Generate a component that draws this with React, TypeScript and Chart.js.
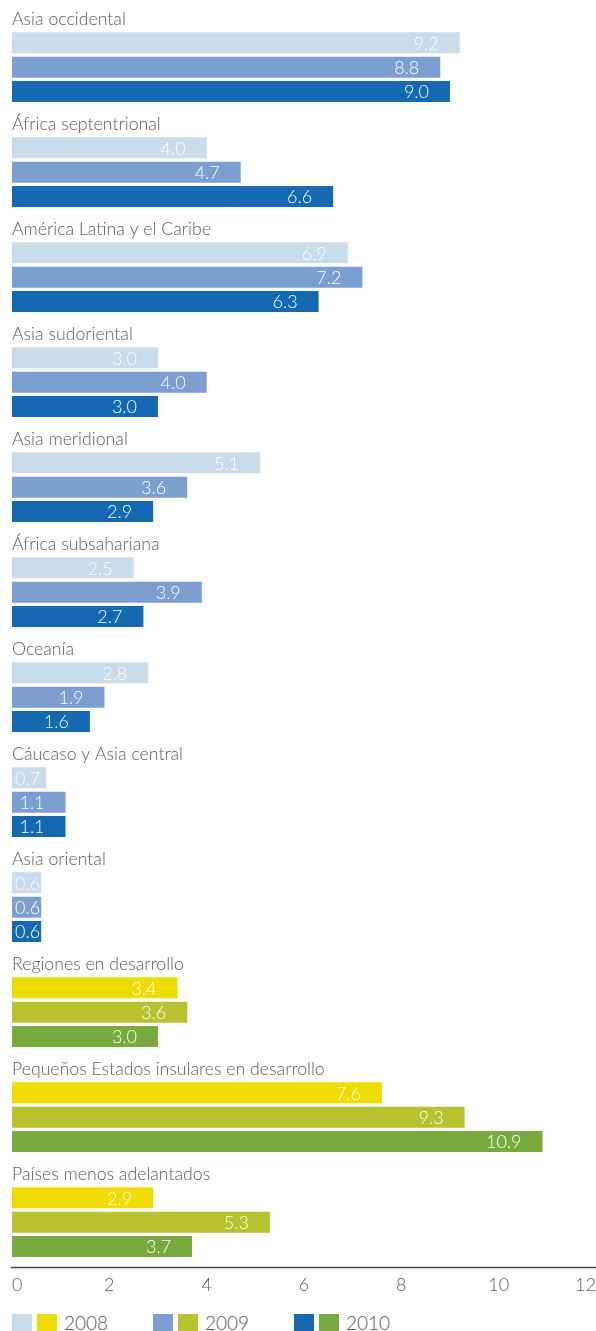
import React, { useEffect, useRef } from "react";
import { Chart, registerables } from "chart.js";

Chart.register(...registerables);

const categories = [
  "Asia occidental",
  "África septentrional",
  "América Latina y el Caribe",
  "Asia sudoriental",
  "Asia meridional",
  "África subsahariana",
  "Oceanía",
  "Cáucaso y Asia central",
  "Asia oriental",
  "Regiones en desarrollo",
  "Pequeños Estados insulares en desarrollo",
  "Países menos adelantados",
];

const years = ["2008", "2009", "2010"];

const values2008 = [9.2, 4.0, 6.9, 3.0, 5.1, 2.5, 2.8, 0.7, 0.6, 3.4, 7.6, 2.9];
const values2009 = [8.8, 4.7, 7.2, 4.0, 3.6, 3.9, 1.9, 1.1, 0.6, 3.6, 9.3, 5.3];
const values2010 = [9.0, 6.6, 6.3, 3.0, 2.9, 2.7, 1.6, 1.1, 0.6, 3.0, 10.9, 3.7];

const xTickValues = [0, 2, 4, 6, 8, 10, 12];

// first index of the aggregate groups (drawn in yellow/green)
const aggregateStart = 9;

const regionColors = ["#c8dcea", "#7a9fd0", "#1569b0"];
const aggregateColors = ["#f0dc00", "#b8c22e", "#78aa3d"];

const FONT = "Lato, 'Open Sans', sans-serif";
const TEXT_COLOR = "#58595b";

const overlayPlugin = {
  id: "overlayPlugin",
  afterDatasetsDraw(chart: any) {
    const ctx = chart.ctx;
    const area = chart.chartArea;
    ctx.save();
    // group labels
    ctx.font = `300 17.7px ${FONT}`;
    ctx.fillStyle = TEXT_COLOR;
    ctx.textAlign = "left";
    ctx.textBaseline = "alphabetic";
    const meta0 = chart.getDatasetMeta(0);
    meta0.data.forEach((bar: any, i: number) => {
      const top = bar.y - bar.height / 2;
      ctx.fillText(categories[i], area.left, top - 7);
    });
    // value labels
    ctx.font = `300 18px ${FONT}`;
    ctx.fillStyle = "#ffffff";
    ctx.textAlign = "left";
    ctx.textBaseline = "middle";
    chart.data.datasets.forEach((ds: any, d: number) => {
      chart.getDatasetMeta(d).data.forEach((bar: any, i: number) => {
        const txt = Number(ds.data[i]).toFixed(1);
        const w = ctx.measureText(txt).width;
        let left = bar.x - 21 - w;
        if (left < bar.base + 3) left = bar.base + 3;
        ctx.fillText(txt, left, bar.y + 1);
      });
    });
    // axis line
    ctx.strokeStyle = "#444444";
    ctx.lineWidth = 1.5;
    const y = area.bottom - 7.2;
    ctx.beginPath();
    ctx.moveTo(area.left - 1, y);
    ctx.lineTo(area.right, y);
    ctx.stroke();
    ctx.restore();
  },
};

function colorsFor(k: number) {
  return categories.map((_, i) => (i >= aggregateStart ? aggregateColors[k] : regionColors[k]));
}

export default function App() {
  const canvasRef = useRef<HTMLCanvasElement | null>(null);

  useEffect(() => {
    if (!canvasRef.current) return;
    const series = [values2008, values2009, values2010];
    const chart = new Chart(canvasRef.current, {
      type: "bar",
      data: {
        labels: categories,
        datasets: series.map((vals, k) => ({
          label: years[k],
          data: vals,
          backgroundColor: colorsFor(k),
          borderWidth: 0,
          categoryPercentage: 0.697,
          barPercentage: 0.86,
        })),
      },
      options: {
        indexAxis: "y",
        responsive: false,
        animation: false,
        devicePixelRatio: 1,
        layout: { padding: { left: 12, right: 0, top: 14.7, bottom: 3.7 } },
        plugins: {
          legend: { display: false },
          tooltip: { enabled: false },
        },
        scales: {
          y: { display: false },
          x: {
            min: 0,
            max: 12,
            afterBuildTicks: (scale: any) => {
              scale.ticks = xTickValues.map((v) => ({ value: v }));
            },
            grid: { display: false, drawTicks: false },
            border: { display: false },
            ticks: {
              align: "inner",
              padding: 0,
              color: TEXT_COLOR,
              font: { family: FONT, size: 18, weight: "300" },
              callback: (v: any) => String(v),
            },
          },
        },
      },
      plugins: [overlayPlugin],
    } as any);
    return () => chart.destroy();
  }, []);

  const swatch = (c: string, ml: number) => (
    <span
      style={{
        display: "inline-block",
        width: 20,
        height: 20,
        background: c,
        marginLeft: ml,
        verticalAlign: "top",
      }}
    />
  );

  return (
    <div style={{ position: "absolute", left: 0, top: 0, width: 596, height: 1331, overflow: "hidden", background: "#fff" }}>
      <canvas ref={canvasRef} width={596} height={1300} style={{ display: "block", width: 596, height: 1300 }} />
      <div style={{ position: "absolute", left: 12, top: 1314, display: "flex", fontFamily: FONT, fontWeight: 300, fontSize: 19, color: TEXT_COLOR }}>
        {years.map((y, k) => (
          <div key={y} style={{ width: 141, display: "flex", alignItems: "flex-start", lineHeight: "20px" }}>
            {swatch(regionColors[k], 0)}
            {swatch(aggregateColors[k], 5)}
            <span style={{ marginLeft: 7, position: "relative", top: -1 }}>{y}</span>
          </div>
        ))}
      </div>
    </div>
  );
}
